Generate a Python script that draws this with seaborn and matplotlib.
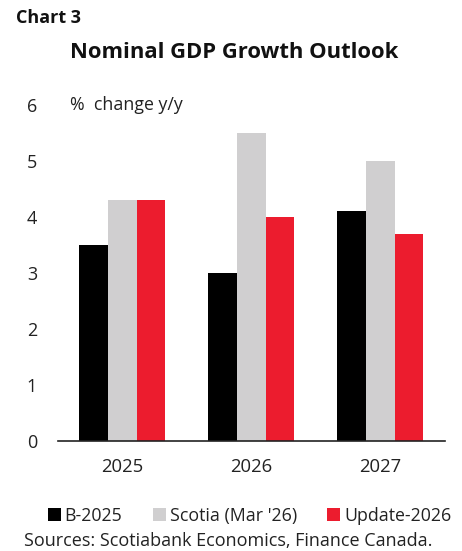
import matplotlib
matplotlib.use("Agg")
import matplotlib.pyplot as plt
from matplotlib.patches import Patch
import pandas as pd
import seaborn as sns

years = ["2025", "2026", "2027"]
series = ["B-2025", "Scotia (Mar '26)", "Update-2026"]
b2025 = [3.5, 3.0, 4.1]
scotia = [4.3, 5.5, 5.0]
update2026 = [4.3, 4.0, 3.7]
colors = ["#000000", "#D0CFD0", "#EC1C2E"]
y_ticks = [0, 1, 2, 3, 4, 5, 6]

df = pd.DataFrame({
    "year": years * 3,
    "series": [series[0]] * 3 + [series[1]] * 3 + [series[2]] * 3,
    "value": b2025 + scotia + update2026,
})

sns.set_theme(style="white")
plt.rcParams["font.family"] = ["Open Sans", "DejaVu Sans"]

fig = plt.figure(figsize=(4.62, 5.51), dpi=100)
ax = fig.add_axes([0.1255, 0.1996, 0.8375, 0.6098])

sns.barplot(data=df, x="year", y="value", hue="series", order=years,
            hue_order=series, palette=colors, width=0.667, saturation=1,
            linewidth=0, ax=ax, legend=False)

ax.set_xlim(-0.5, 2.5)
ax.set_ylim(0, 6)
ax.set_yticks(y_ticks)
ax.set_yticklabels([str(t) for t in y_ticks])
ax.tick_params(axis="y", length=0, pad=15, labelsize=13, colors="#222222")
ax.tick_params(axis="x", length=0, pad=12, labelsize=13.3, colors="#222222")
ax.set_xlabel("")
ax.set_ylabel("")
for side in ["top", "right", "left"]:
    ax.spines[side].set_visible(False)
ax.spines["bottom"].set_color("#222222")
ax.spines["bottom"].set_linewidth(1.2)

ax.text(0.03, 6, "%  change y/y", transform=ax.get_yaxis_transform(),
        fontsize=12.8, va="center", ha="left", color="#222222")

fig.text(0.035, 0.967, "Chart 3", fontsize=13, fontweight="bold",
         ha="left", va="center", color="#111111")
fig.text(0.506, 0.905, "Nominal GDP Growth Outlook", fontsize=15.8,
         fontweight="bold", ha="center", va="center", color="#111111")

handles = [Patch(facecolor=c, edgecolor="none") for c in colors]
fig.legend(handles, series, loc="center", bbox_to_anchor=(0.54, 0.064),
           ncol=3, frameon=False, fontsize=12.8, handlelength=0.75,
           handleheight=0.75, handletextpad=0.2, columnspacing=1.7,
           labelcolor="#222222")

fig.text(0.052, 0.018, "Sources: Scotiabank Economics, Finance Canada.",
         fontsize=13, ha="left", va="center", color="#222222")

fig.savefig("out.png", dpi=100)
